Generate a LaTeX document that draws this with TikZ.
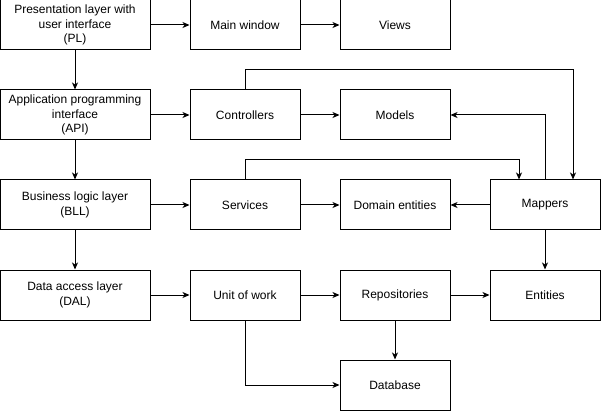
\documentclass[tikz,border=0pt]{standalone}
\usepackage{fontspec}
\setmainfont{Liberation Sans}
\usetikzlibrary{arrows.meta}
\tikzset{
  layer/.style={draw, line width=1pt, minimum width=150pt, minimum height=50pt, align=center, inner sep=2pt, font=\fontsize{12}{14.5}\selectfont},
  part/.style={layer, minimum width=110pt},
  arr/.style={line width=1pt, -{Stealth[length=7pt, width=6pt, inset=2pt]}}
}
\begin{document}
\begin{tikzpicture}[x=1pt, y=-1pt]
      % fix the bbox to the reference size
      \path[use as bounding box] (0,0) rectangle (601,411);

      % left column: the layers
      \node[layer] (pl)  at (75,25)  {Presentation layer with\\user interface\\(PL)};
      \node[layer] (api) at (75,115) {Application programming\\interface\\(API)};
      \node[layer] (bll) at (75,205) {Business logic layer\\(BLL)};
      \node[layer] (dal) at (75,295) {Data access layer\\(DAL)};

      \node[part] (win)  at (245,25)  {Main window};
      \node[part] (view) at (395,25)  {Views};
      \node[part] (ctrl) at (245,115) {Controllers};
      \node[part] (mod)  at (395,115) {Models};
      \node[part] (svc)  at (245,205) {Services};
      \node[part] (dom)  at (395,205) {Domain entities};
      \node[part] (map)  at (545,205) {Mappers};
      \node[part] (uow)  at (245,295) {Unit of work};
      \node[part] (repo) at (395,295) {Repositories};
      \node[part] (ent)  at (545,295) {Entities};
      \node[part] (db)   at (395,385) {Database};

      \draw[arr] (pl) -- (api);
      \draw[arr] (api) -- (bll);
      \draw[arr] (bll) -- (dal);

      \draw[arr] (pl) -- (win);
      \draw[arr] (win) -- (view);
      \draw[arr] (api) -- (ctrl);
      \draw[arr] (ctrl) -- (mod);
      \draw[arr] (bll) -- (svc);
      \draw[arr] (svc) -- (dom);
      \draw[arr] (map) -- (dom);
      \draw[arr] (dal) -- (uow);
      \draw[arr] (uow) -- (repo);
      \draw[arr] (repo) -- (ent);
      \draw[arr] (repo) -- (db);
      \draw[arr] (map) -- (ent);

      \draw[arr] (ctrl.north) -- ++(0,-20) -| ([xshift=28pt]map.north);
      \draw[arr] (svc.north) -- ++(0,-20) -| ([xshift=-26pt]map.north);
      \draw[arr] (map.north) |- (mod.east);
      \draw[arr] (uow.south) |- (db.west);
    \end{tikzpicture}
\end{document}
